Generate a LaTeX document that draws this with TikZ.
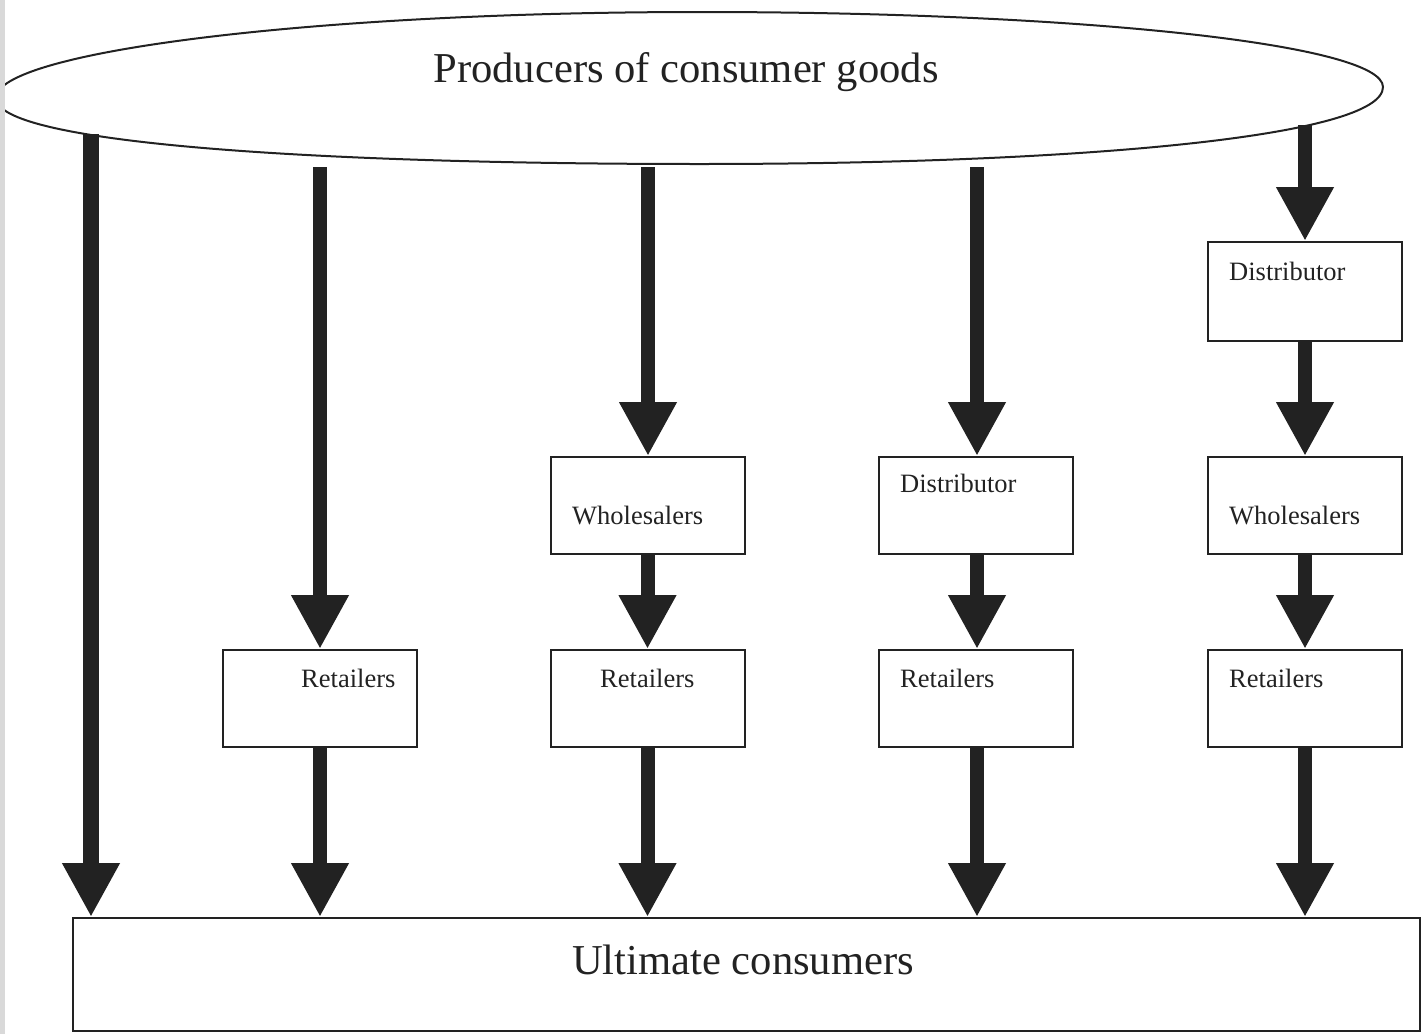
\documentclass[tikz,border=0pt]{standalone}
\usepackage{fontspec}
\setmainfont{Liberation Serif}
\usetikzlibrary{arrows.meta}
\definecolor{ink}{HTML}{222222}
\begin{document}
\begin{tikzpicture}[x=1pt,y=-1pt,
  box/.style={draw=ink,line width=2pt,rectangle,minimum width=194pt,minimum height=97pt,inner sep=0pt},
  lbl/.style={anchor=base west,inner sep=0pt,text=ink,font=\fontsize{26.5}{30}\selectfont},
  big/.style={anchor=base,inner sep=0pt,text=ink,font=\fontsize{42.6}{48}\selectfont},
  flow/.style={draw=ink,line width=14pt,-{Triangle[width=54pt,length=54pt]}},
]
\useasboundingbox (0,0) rectangle (1421,1034);

% producers: a wide oval, its left end running off the page
\draw[ink,line width=2pt]
  (1383,87) .. controls (1383,44) and (1077,12) .. (700,12)
  .. controls (311,12) and (-4,52) .. (-4,98)
  .. controls (-4,143) and (311,164) .. (700,164)
  .. controls (1077,164) and (1383,137) .. (1383,87) -- cycle;
\node[big] (prod) at (686,82) {Producers of consumer goods};

% page edge
\fill[gray!30] (0,0) rectangle (5,1034);

% consumers
\node[draw=ink,line width=2pt,rectangle,minimum width=1347pt,minimum height=113pt,inner sep=0pt] (cons) at (746.5,974.5) {};
\node[big] (constxt) at (743,974) {Ultimate consumers};

% intermediaries
\node[box] (r1) at (320,698.5) {};
\node[box] (w3) at (647.5,505.5) {};
\node[box] (r3) at (647.5,698.5) {};
\node[box] (d4) at (975.5,505.5) {};
\node[box] (r4) at (975.5,698.5) {};
\node[box,minimum height=99pt] (d5) at (1305,291.5) {};
\node[box] (w5) at (1305,505.5) {};
\node[box] (r5) at (1305,698.5) {};

\node[lbl] (r1t) at (301,687) {Retailers};
\node[lbl] (w3t) at (572,524) {Wholesalers};
\node[lbl] (r3t) at (600,687) {Retailers};
\node[lbl] (d4t) at (900,492) {Distributor};
\node[lbl] (r4t) at (900,687) {Retailers};
\node[lbl] (d5t) at (1229,280) {Distributor};
\node[lbl] (w5t) at (1229,524) {Wholesalers};
\node[lbl] (r5t) at (1229,687) {Retailers};

% channel starts under the producers
\coordinate (s1) at (91,134);
\coordinate (s2) at (320,167);
\coordinate (s3) at (648,167);
\coordinate (s4) at (977,167);
\coordinate (s5) at (1305,125);

% direct channel
\draw[flow,line width=16pt] (s1) -- (s1 |- cons.north);
% producer - retailer - consumer
\draw[flow] (s2) -- (r1.north);
\draw[flow] (r1.south) -- (r1.south |- cons.north);
% producer - wholesaler - retailer - consumer
\draw[flow] (s3) -- (s3 |- w3.north);
\draw[flow] (w3.south) -- (r3.north);
\draw[flow] (r3.south) -- (r3.south |- cons.north);
% producer - distributor - retailer - consumer
\draw[flow] (s4) -- (s4 |- d4.north);
\draw[flow] (s4 |- d4.south) -- (s4 |- r4.north);
\draw[flow] (s4 |- r4.south) -- (s4 |- cons.north);
% producer - distributor - wholesaler - retailer - consumer
\draw[flow] (s5) -- (d5.north);
\draw[flow] (d5.south) -- (w5.north);
\draw[flow] (w5.south) -- (r5.north);
\draw[flow] (r5.south) -- (r5.south |- cons.north);
\end{tikzpicture}
\end{document}
